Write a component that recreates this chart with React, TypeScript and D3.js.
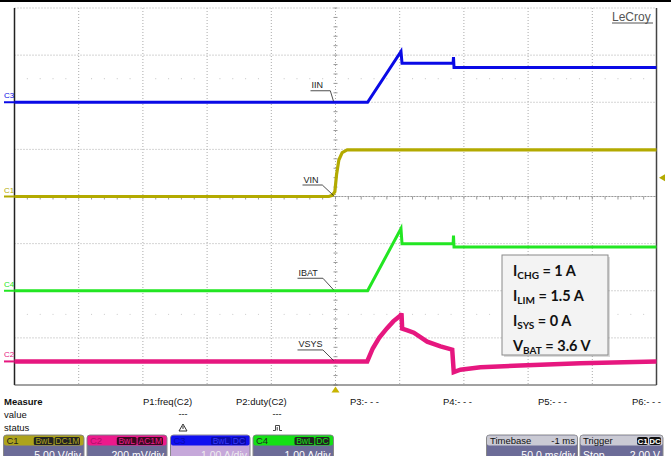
import React, { useEffect } from "react";
import * as d3 from "d3";

// time axis (ms), 50 ms/div, 10 div
const timeDomain = [-250, 250];

// C3 - IIN (A), 1 A/div
const iinT = [-250, 25, 51, 51.8, 91.6, 91.9, 92.3, 250];
const iinA = [0, 0, 1.08, 0.83, 0.83, 0.96, 0.74, 0.74];

// C1 - VIN (V), 5 V/div
const vinT = [-250, -5.2, -2.5, -0.5, 0.8, 2.6, 5.2, 9.1, 250];
const vinV = [0, 0, 0.12, 0.51, 2.3, 3.87, 4.65, 4.94, 4.94];

// C4 - IBAT (A), 1 A/div
const ibatT = [-250, 25, 51, 51.8, 91.6, 91.9, 92.3, 250];
const ibatA = [0, 0, 1.32, 1.0, 1.0, 1.17, 0.93, 0.93];

// C2 - VSYS (mV, AC), 200 mV/div
const vsysT = [-250, 24.7, 29, 34, 40, 45, 50.6, 51.4, 51.9, 56, 61, 71.4, 81.8, 90.9, 92.1, 97.3, 112.9, 144, 190.8, 250];
const vsysMv = [0, 0, 55, 100, 140, 170, 195, 204, 139, 132, 122, 84, 64, 50, -45, -35, -25, -17, -8, 0];

const channels = [
  { id: "C3", name: "IIN", t: iinT, v: iinA, perDiv: 1, offset: 2, color: "#0a0ae6", width: 3 },
  { id: "C1", name: "VIN", t: vinT, v: vinV, perDiv: 5, offset: 0, color: "#b3aa00", width: 3.2 },
  { id: "C4", name: "IBAT", t: ibatT, v: ibatA, perDiv: 1, offset: -2, color: "#22e622", width: 3 },
  { id: "C2", name: "VSYS", t: vsysT, v: vsysMv, perDiv: 200, offset: -3.5, color: "#e6177f", width: 4.5 },
];

// label placement relative to trace at t=0 (dx, dy of text start)
const labelOffsets: Record<string, [number, number]> = {
  IIN: [-24, -14],
  VIN: [-32, -14],
  IBAT: [-37, -15],
  VSYS: [-37, -14],
};

const notes = [
  { main: "I", sub: "CHG", rest: " = 1 A" },
  { main: "I", sub: "LIM", rest: " = 1.5 A" },
  { main: "I", sub: "SYS", rest: " = 0 A" },
  { main: "V", sub: "BAT", rest: " = 3.6 V" },
];

const measures = ["P1:freq(C2)", "P2:duty(C2)", "P3:- - -", "P4:- - -", "P5:- - -", "P6:- - -"];
const measureX = [143, 236, 350, 443, 538, 632];

const W = 671;
const H = 456;
const left = 14.5;
const right = 656.5;
const top = 8;
const bottom = 385;
const font = "Liberation Sans, Arial, sans-serif";

const ChBox = ({ x, w, head, tags, tagBg, tagFg, label, labelFg, lower, lowerFg, scale }: any) => (
  <g>
    <rect x={x} y={435} width={w} height={25} rx={3} fill={lower} stroke="#888" strokeWidth={1} />
    <rect x={x + 0.5} y={435.5} width={w - 1} height={10} rx={2} fill={head} />
    <text x={x + 3} y={443.5} fontSize={9.5} fill={labelFg} fontFamily={font}>{label}</text>
    {tags.map((tg: string, i: number) => {
      const tw = tg.length * 5.6 + 3;
      const tx = x + w - 3 - tags.slice(i).reduce((s: number, q: string) => s + q.length * 5.6 + 4, 0);
      return (
        <g key={tg}>
          <rect x={tx} y={437} width={tw} height={8} rx={1.5} fill={tagBg} />
          <text x={tx + tw / 2} y={444} fontSize={8.5} textAnchor="middle" fill={tagFg} fontFamily={font}>{tg}</text>
        </g>
      );
    })}
    <text x={x + w - 3} y={458.5} fontSize={10.5} textAnchor="end" fill={lowerFg} fontFamily={font}>{scale}</text>
  </g>
);

export default function App() {
  useEffect(() => {
    document.body.style.margin = "0";
  }, []);

  const x = d3.scaleLinear().domain(timeDomain).range([left, right]);
  const divPx = (bottom - top) / 8;
  const xDiv = (right - left) / 10;
  const cy = (top + bottom) / 2;
  const cx = (left + right) / 2;

  const vLines = d3.range(1, 10).map((i) => left + i * xDiv);
  const hLines = d3.range(0, 8).map((i) => top + i * divPx);
  const xTicks = d3.range(0, 51).map((i) => left + (i * xDiv) / 5);
  const yTicks = d3.range(0, 41).map((i) => top + (i * divPx) / 5);
  const dotRows = [top + 1.5 * divPx, top + 6.5 * divPx];

  return (
    <svg width={W} height={H} style={{ position: "absolute", left: 0, top: 0, background: "#fff" }}>
      <rect x={0} y={0} width={W} height={H} fill="#fff" />
      <rect x={0} y={0} width={W} height={2} fill="#000" />

      {/* grid */}
      {vLines.map((v) => (
        <line key={"v" + v} x1={v} x2={v} y1={top} y2={bottom} stroke="#aaa" strokeWidth={1} strokeDasharray="1,2" />
      ))}
      {hLines.map((h) => (
        <line key={"h" + h} x1={left} x2={right} y1={h} y2={h} stroke="#aaa" strokeWidth={1} strokeDasharray="1,2" />
      ))}
      {dotRows.map((r) =>
        xTicks
          .filter((_, i) => i % 5 !== 0)
          .map((t) => <circle key={r + "-" + t} cx={t} cy={r} r={0.6} fill="#ccc" />)
      )}
      <line x1={left} x2={right} y1={cy} y2={cy} stroke="#999" strokeWidth={1} strokeDasharray="2,1" />
      {xTicks.map((t) => (
        <line key={"xt" + t} x1={t} x2={t} y1={cy} y2={cy + 3} stroke="#999" />
      ))}
      {yTicks.map((t) => (
        <line key={"yt" + t} x1={cx - 2} x2={cx + 2} y1={t} y2={t} stroke="#999" />
      ))}
      <line x1={left} x2={left} y1={top} y2={bottom} stroke="#222" strokeWidth={1.5} />
      <line x1={right} x2={right} y1={top} y2={bottom} stroke="#444" strokeWidth={1.5} />
      <line x1={left} x2={right} y1={bottom} y2={bottom} stroke="#444" strokeWidth={1.2} />

      {/* traces */}
      {channels.map((c) => {
        const y = d3
          .scaleLinear()
          .domain([(-4 - c.offset) * c.perDiv, (4 - c.offset) * c.perDiv])
          .range([bottom, top]);
        const line = d3
          .line<number>()
          .x((_, i) => x(c.t[i]))
          .y((d) => y(d));
        const y0 = y(0);
        const [dx, dy] = labelOffsets[c.name];
        const tx = x(0) + dx;
        const ty = y0 + dy;
        const tw = c.name.length * 5.6 + 2;
        return (
          <g key={c.id}>
            <path d={line(c.v) || ""} fill="none" stroke={c.color} strokeWidth={c.width} strokeLinejoin="miter" />
            <line x1={4} x2={left} y1={y0} y2={y0} stroke={c.color} strokeWidth={2} />
            <text x={4} y={y0 - 4} fontSize={8} fill={c.color} fontFamily={font}>{c.id}</text>
            <text x={tx} y={ty} fontSize={9} fill="#222" fontFamily={font}>{c.name}</text>
            <line x1={tx - 1} x2={tx + tw} y1={ty + 2.5} y2={ty + 2.5} stroke="#222" strokeWidth={0.8} />
            <line x1={tx + tw} x2={x(0) - 2} y1={ty + 2.5} y2={y0 - 1} stroke="#222" strokeWidth={0.8} />
          </g>
        );
      })}

      {/* trigger markers */}
      <path d={`M${right + 2.5},${cy - 0.4 * divPx} l6,-3.5 v7 z`} fill="#b3aa00" />
      <path d={`M${cx},${bottom + 1.5} l-4,6 h8 z`} fill="#c8b400" />

      {/* LeCroy */}
      <text x={612} y={21} fontSize={12} fill="#555" fontFamily={font}>LeCroy</text>
      <line x1={612} x2={653} y1={23} y2={23} stroke="#555" strokeWidth={1} />

      {/* annotation */}
      <rect x={504} y={257} width={106} height={100} fill="#999" opacity={0.35} />
      <rect x={502} y={255} width={106} height={100} fill="#f3f3f3" stroke="#8a8a8a" strokeWidth={1} />
      {notes.map((n, i) => (
        <text key={n.sub} x={513} y={276 + i * 25} fontSize={14.5} fontWeight="bold" fill="#111" fontFamily="Lato, Open Sans, sans-serif">
          {n.main}
          <tspan fontSize={10} dy={3}>{n.sub}</tspan>
          <tspan dy={-3}>{n.rest}</tspan>
        </text>
      ))}

      {/* measure area */}
      <text x={4} y={405} fontSize={9.5} fontWeight="bold" fill="#111" fontFamily={font}>Measure</text>
      <text x={4} y={417.5} fontSize={9.5} fill="#111" fontFamily={font}>value</text>
      <text x={4} y={431} fontSize={9.5} fill="#111" fontFamily={font}>status</text>
      {measures.map((m, i) => (
        <text key={m} x={measureX[i]} y={405} fontSize={9.5} fill="#111" fontFamily={font}>{m}</text>
      ))}
      <text x={183} y={417} fontSize={9} textAnchor="middle" fill="#111" fontFamily={font}>---</text>
      <text x={277} y={417} fontSize={9} textAnchor="middle" fill="#111" fontFamily={font}>---</text>
      <path d="M183,424 l-4,7 h8 z" fill="none" stroke="#333" strokeWidth={1} />
      <line x1={183} x2={183} y1={426} y2={429} stroke="#333" strokeWidth={1} />
      <path d="M273,430.5 h2.5 v-5 h4 v5 h2.5" fill="none" stroke="#333" strokeWidth={0.9} />
      <line x1={277.2} x2={277.2} y1={427} y2={430.5} stroke="#333" strokeWidth={0.9} />

      {/* channel boxes */}
      <ChBox x={3.5} w={80.5} head="#ada31c" tags={["BwL", "DC1M"]} tagBg="#222" tagFg="#ada31c" label="C1" labelFg="#222" lower="#6c6c98" lowerFg="#fff" scale="5.00 V/div" />
      <ChBox x={87} w={80} head="#ec1a8c" tags={["BwL", "AC1M"]} tagBg="#3a0a20" tagFg="#ec1a8c" label="C2" labelFg="#b0106a" lower="#6c6c98" lowerFg="#fff" scale="200 mV/div" />
      <ChBox x={170.5} w={79.5} head="#1010f0" tags={["BwL", "DC"]} tagBg="#0a0aa8" tagFg="#3a3af8" label="C3" labelFg="#0a0ab0" lower="#c6a8da" lowerFg="#eee" scale="1.00 A/div" />
      <ChBox x={253} w={80.5} head="#14e014" tags={["BwL", "DC"]} tagBg="#222" tagFg="#14e014" label="C4" labelFg="#222" lower="#6c6c98" lowerFg="#fff" scale="1.00 A/div" />

      {/* timebase */}
      <rect x={486.5} y={435} width={91} height={25} rx={3} fill="#6c6c98" stroke="#888" />
      <rect x={487} y={435.5} width={90} height={10} rx={2} fill="#cacad4" />
      <text x={490} y={443.5} fontSize={9.5} fill="#111" fontFamily={font}>Timebase</text>
      <text x={575} y={443.5} fontSize={9.5} textAnchor="end" fill="#111" fontFamily={font}>-1 ms</text>
      <text x={575} y={458.5} fontSize={10.5} textAnchor="end" fill="#fff" fontFamily={font}>50.0 ms/div</text>

      {/* trigger */}
      <rect x={580} y={435} width={83} height={25} rx={3} fill="#6c6c98" stroke="#888" />
      <rect x={580.5} y={435.5} width={82} height={10} rx={2} fill="#cacad4" />
      <text x={583} y={443.5} fontSize={9.5} fill="#111" fontFamily={font}>Trigger</text>
      <rect x={637} y={437} width={11} height={8} rx={2} fill="#111" />
      <text x={642.5} y={444} fontSize={8} textAnchor="middle" fill="#fff" fontWeight="bold" fontFamily={font}>C1</text>
      <rect x={649} y={437} width={12} height={8} rx={2} fill="#111" />
      <text x={655} y={444} fontSize={8} textAnchor="middle" fill="#fff" fontWeight="bold" fontFamily={font}>DC</text>
      <text x={583} y={458.5} fontSize={10.5} fill="#fff" fontFamily={font}>Stop</text>
      <text x={660} y={458.5} fontSize={10.5} textAnchor="end" fill="#fff" fontFamily={font}>2.00 V</text>
    </svg>
  );
}
